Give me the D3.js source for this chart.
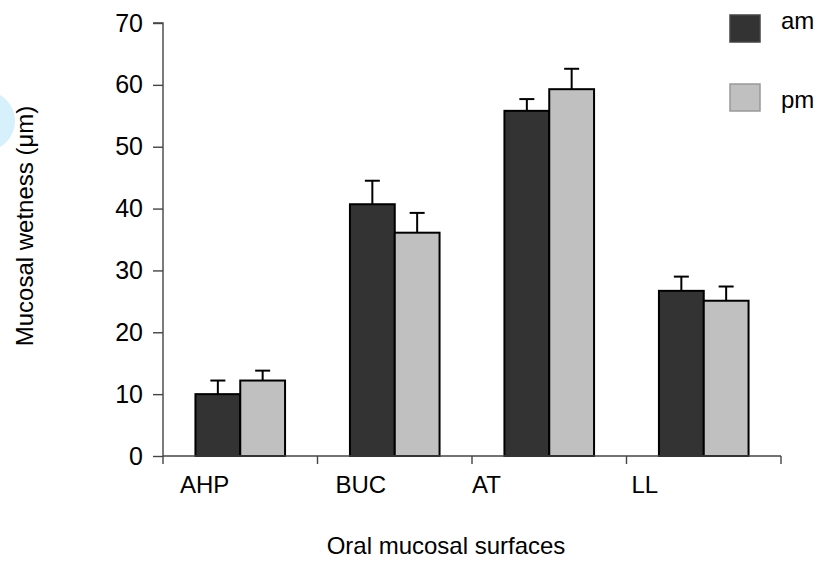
<!DOCTYPE html>
<html>
<head>
<meta charset="utf-8">
<script src="https://cdn.jsdelivr.net/npm/d3@7/dist/d3.min.js"></script>
<style>
  html, body { margin: 0; padding: 0; background: #fff; }
  svg { display: block; font-family: Arial, "Liberation Sans", sans-serif; }
</style>
</head>
<body>
<svg id="chart" width="821" height="566"></svg>
<script>
// ---- data ----
const categories = ["AHP", "BUC", "AT", "LL"];
const seriesNames = ["am", "pm"];
const amValues = [10.0, 40.7, 55.8, 26.7];
const pmValues = [12.2, 36.1, 59.3, 25.1];
const amErrors = [2.2, 3.8, 1.9, 2.3];
const pmErrors = [1.6, 3.2, 3.3, 2.3];
const yTicks = [0, 10, 20, 30, 40, 50, 60, 70];
const labelShift = [17, 18, 0, 5]; // category label offsets from the left tick

const colors = { am: "#333333", pm: "#c0c0c0" };
const FS = 24;

const svg = d3.select("#chart");
const plot = { left: 163, right: 781, top: 23, bottom: 456 };

const x0 = d3.scaleBand().domain(categories)
  .range([plot.left, plot.right]).paddingInner(0.42).paddingOuter(0.21);
const x1 = d3.scaleBand().domain(seriesNames).range([0, x0.bandwidth()]);
const y = d3.scaleLinear().domain([0, 70]).range([plot.bottom, plot.top]);

// light blue mark at left edge
svg.append("circle").attr("cx", -15).attr("cy", 121).attr("r", 30).attr("fill", "#d6f0fc");

const rows = categories.map((c, i) => ({
  cat: c,
  items: [
    { s: "am", v: amValues[i], e: amErrors[i] },
    { s: "pm", v: pmValues[i], e: pmErrors[i] }
  ]
}));

// error bars
const g = svg.append("g");
rows.forEach(r => {
  r.items.forEach(d => {
    const cx = x0(r.cat) + x1(d.s) + x1.bandwidth() / 2;
    g.append("line").attr("x1", cx).attr("x2", cx)
      .attr("y1", y(d.v)).attr("y2", y(d.v + d.e))
      .attr("stroke", "#000").attr("stroke-width", 2);
    g.append("line").attr("x1", cx - 7.5).attr("x2", cx + 7.5)
      .attr("y1", y(d.v + d.e)).attr("y2", y(d.v + d.e))
      .attr("stroke", "#000").attr("stroke-width", 2);
  });
});

// bars
rows.forEach(r => {
  svg.append("g").selectAll("rect").data(r.items).join("rect")
    .attr("x", d => x0(r.cat) + x1(d.s))
    .attr("y", d => y(d.v))
    .attr("width", x1.bandwidth())
    .attr("height", d => y(0) - y(d.v))
    .attr("fill", d => colors[d.s])
    .attr("stroke", "#000")
    .attr("stroke-width", 2);
});

// y axis
const yAxis = d3.axisLeft(y).tickValues(yTicks).tickSize(10).tickPadding(10);
const ya = svg.append("g").attr("transform", `translate(${plot.left},0)`).call(yAxis);
ya.attr("font-size", 25).attr("font-family", "Arial, 'Liberation Sans', sans-serif");
ya.select(".domain").attr("stroke", "#444").attr("stroke-width", 1.4).attr("d", `M-10,${y(70)}H0V${y(0)}`);
ya.selectAll(".tick line").attr("stroke", "#444").attr("stroke-width", 1.4);
ya.selectAll(".tick text").attr("fill", "#000");

// x axis: line with boundary ticks
const step = x0.step();
const boundaries = categories.map(c => x0(c) - x0.paddingOuter() * step).concat([plot.right]);
const xa = svg.append("g");
xa.append("line").attr("x1", plot.left).attr("x2", plot.right)
  .attr("y1", y(0)).attr("y2", y(0)).attr("stroke", "#444").attr("stroke-width", 1.4);
xa.selectAll("line.tk").data(boundaries).join("line").attr("class", "tk")
  .attr("x1", d => d).attr("x2", d => d)
  .attr("y1", y(0)).attr("y2", y(0) + 8)
  .attr("stroke", "#444").attr("stroke-width", 1.4);
xa.selectAll("text").data(categories).join("text")
  .attr("x", (c, i) => boundaries[i] + labelShift[i])
  .attr("y", y(0) + 37)
  .attr("font-size", FS).attr("fill", "#000")
  .text(c => c);

// axis titles
svg.append("text").attr("x", 446).attr("y", 554).attr("text-anchor", "middle")
  .attr("font-size", FS).text("Oral mucosal surfaces");
svg.append("text").attr("transform", "translate(33,226) rotate(-90)")
  .attr("text-anchor", "middle").attr("font-size", FS).text("Mucosal wetness (\u03bcm)");

// legend
const legendY = [15, 84];
const lg = svg.append("g");
seriesNames.forEach((s, i) => {
  lg.append("rect").attr("x", 730).attr("y", legendY[i]).attr("width", 30).attr("height", 27)
    .attr("fill", colors[s]).attr("stroke", s === "am" ? "#444" : "#999").attr("stroke-width", 1.5);
  lg.append("text").attr("x", 781).attr("y", legendY[i] + (i === 0 ? 14 : 24))
    .attr("font-size", FS).text(s);
});
</script>
</body>
</html>
